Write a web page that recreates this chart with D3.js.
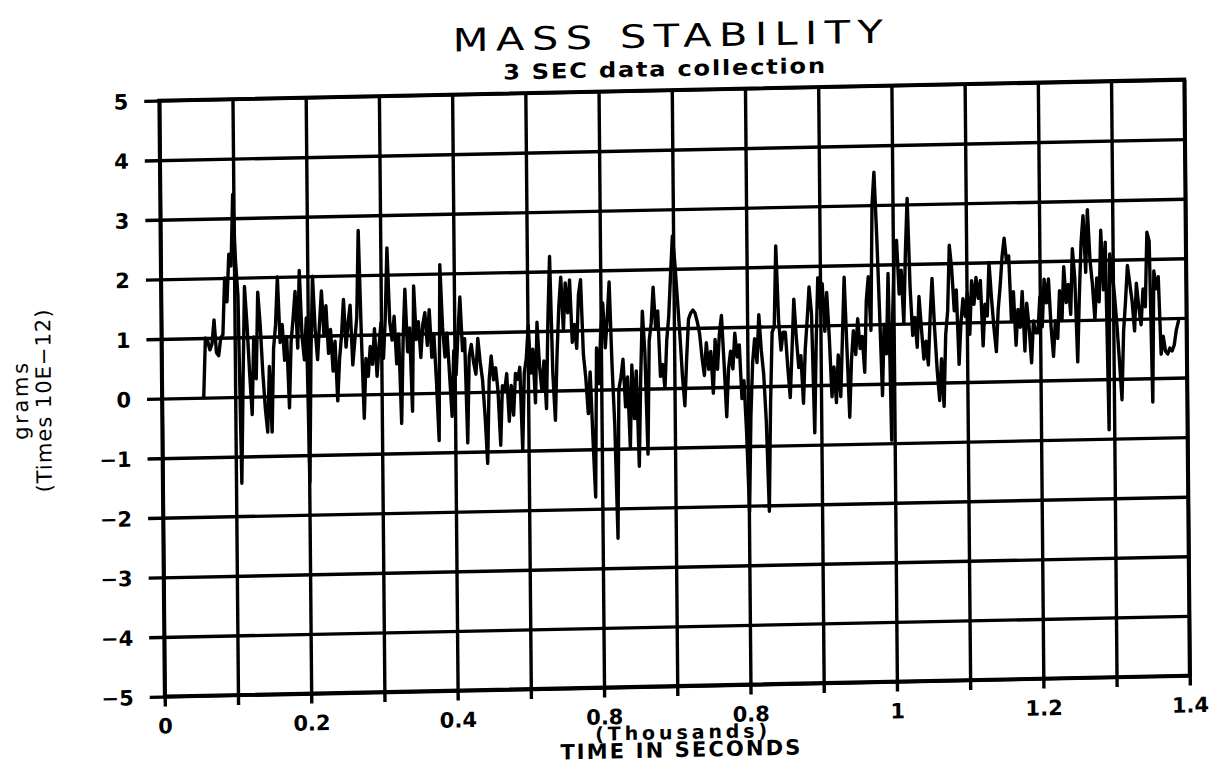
<!DOCTYPE html>
<html><head><meta charset="utf-8">
<script src="https://cdn.jsdelivr.net/npm/d3@7"></script>
<style>html,body{margin:0;padding:0;background:#fff;} svg{display:block;}</style>
</head><body>
<svg id="chart" width="1214" height="766"></svg>
<script>
// ---------- data ----------
const titleText = "MASS STABILITY";
const subtitleText = "3 SEC data collection";
const yTitleLines = ["grams", "(Times 10E\u221212)"];
const xTitleLines = ["(Thousands)", "TIME IN SECONDS"];
const xDomain = [0, 1.4];
const yDomain = [-5, 5];
const xGridValues = [0, 0.1, 0.2, 0.3, 0.4, 0.5, 0.6, 0.7, 0.8, 0.9, 1.0, 1.1, 1.2, 1.3, 1.4];
const xTickLabels = ["0", "0.2", "0.4", "0.8", "0.8", "1", "1.2", "1.4"];
const yTickValues = [-5, -4, -3, -2, -1, 0, 1, 2, 3, 4, 5];
const yTickLabels = ["\u22125", "\u22124", "\u22123", "\u22122", "\u22121", "0", "1", "2", "3", "4", "5"];
const sampleStart = 0.057;   // thousands of seconds
const sampleStep = 0.003;    // 3 sec data collection
const massValues = [
  0.0, 1.0, 0.95, 0.8, 0.9, 1.3, 0.75, 0.7, 1.0, 1.05,
  2.0, 1.6, 2.4, 2.2, 3.4, 2.3, 1.7, -1.45, 0.3, 1.85,
  1.2, 0.4, -0.3, 1.0, 0.3, 1.75, 1.2, 0.4, -0.2, -0.6,
  0.5, -0.6, 0.8, 1.2, 2.0, 0.9, 1.2, 0.6, 1.0, -0.2,
  0.9, 1.3, 1.75, 0.8, 2.1, 1.0, 0.6, 1.3, -1.45, 0.7,
  2.0, 1.1, 0.6, 1.2, 1.75, 1.0, 1.5, 0.7, 1.1, 0.4,
  0.9, -0.1, 0.6, 1.0, 1.6, 0.8, 1.2, 1.5, 0.5, 0.9,
  1.3, 2.75, 1.0, -0.4, 0.6, 0.3, 0.8, 0.5, 1.1, 0.3,
  0.8, 1.2, 0.6, 1.3, 2.45, 1.2, 0.9, 1.3, 0.5, 1.0,
  -0.5, 0.9, 1.75, 0.7, 1.1, -0.3, 1.8, 0.9, 1.2, 0.6,
  1.15, 1.35, 0.8, 1.4, 0.6, 1.0, 0.2, -0.8, 2.15, 1.1,
  0.6, 1.0, 0.3, -0.4, 0.7, 0.3, 1.0, 1.6, 0.7, 0.9,
  -0.85, 0.6, 0.8, 0.5, 0.3, 0.9, 0.5, 0.2, -0.4, -1.2,
  0.2, 0.6, 0.2, 0.4, 0.0, -0.9, 0.1, 0.0, 0.3, -0.5,
  0.1, -0.4, 0.3, 0.2, 0.4, -1.0, 0.3, 0.55, 1.1, 0.3,
  0.7, -0.2, 1.15, 0.4, 0.0, 0.5, -0.3, 1.2, 2.25, 0.3,
  -0.5, 0.6, 1.4, 1.9, 1.0, 1.8, 1.3, 1.85, 0.8, 1.1,
  0.7, 1.6, 1.85, 0.6, 0.2, -0.4, 0.3, -0.8, -1.8, 0.7,
  0.1, 1.0, 1.45, 0.7, 1.2, 1.8, 0.4, -0.6, -2.5, 0.0,
  0.2, 0.5, -0.3, 0.2, -1.0, 0.4, -0.5, 0.3, -1.3, 0.2,
  1.3, 0.6, -1.1, 0.8, 1.1, 1.7, 1.0, 1.3, 0.2, 0.4,
  0.0, 0.8, 1.2, 1.9, 2.55, 2.1, 1.5, 0.9, 0.2, -0.3,
  0.5, 1.15, 1.25, 1.3, 1.25, 1.1, 0.9, 0.5, 0.2, 0.75,
  0.3, 0.6, -0.1, 0.8, 0.3, 0.9, 1.2, 0.4, -0.5, 0.3,
  0.6, 0.3, 0.9, 0.5, 0.7, -0.2, 0.1, -0.8, -2.1, -0.5,
  0.4, 0.8, 0.4, 1.2, 0.6, 0.2, -0.6, -2.1, -0.3, 0.9,
  1.0, 2.35, 1.1, 0.6, 0.9, 0.9, 0.3, -0.2, 0.6, 1.45,
  0.8, 0.3, 0.5, -0.3, 0.6, 1.1, 1.65, 1.2, -0.8, 0.7,
  1.8, 1.3, 1.7, 0.9, 1.55, 0.8, -0.2, 0.3, -0.3, 0.5,
  -0.2, 0.8, 1.8, 0.6, -0.55, 0.4, 0.9, 0.5, 1.1, 0.6,
  0.8, 0.2, 1.4, 1.8, 0.9, 3.0, 3.55, 2.5, 1.2, -0.2,
  1.0, 0.5, 1.85, -0.95, 1.2, 2.3, 2.4, 1.5, 1.9, 1.0,
  2.2, 3.1, 1.6, 0.8, 1.1, 0.6, 1.45, 0.9, 0.4, 0.7,
  0.3, 1.1, 1.75, 0.9, 0.2, -0.3, 0.4, -0.4, 0.8, 1.2,
  2.3, 1.9, 1.2, 1.55, 0.3, 1.0, 1.4, 1.1, 1.5, 0.8,
  1.7, 1.3, 1.75, 1.4, 1.7, 0.6, 1.3, 1.1, 2.0, 1.4,
  0.9, 0.5, 1.2, 1.6, 2.1, 2.4, 2.0, 2.1, 1.0, 1.5,
  0.6, 1.2, 0.9, 1.5, 0.5, 1.3, 0.9, 0.3, 1.0, 0.8,
  0.8, 1.4, 0.9, 1.7, 1.3, 1.7, 0.9, 0.4, 1.0, 0.7,
  1.5, 1.0, 1.9, 1.3, 1.6, 1.1, 2.2, 1.7, 0.3, 1.4,
  2.3, 2.75, 1.8, 2.85, 2.0, 1.6, 1.0, 1.7, 1.3, 2.5,
  1.5, 2.3, -0.85, 2.1, 1.8, 1.4, 0.9, 0.3, -0.35, 0.8,
  1.3, 1.9, 1.6, 1.3, 0.8, 1.6, 1.2, 0.9, 1.5, 1.2,
  2.45, 2.3, -0.4, 1.8, 1.5, 1.7, 0.4, 0.7, 0.45, 0.4,
  0.5, 0.45, 0.55, 0.8, 0.95
];

// ---------- layout ----------
const L = 162, T = 90, W = 1025, H = 596;
const FONT = "'DejaVu Sans', 'Liberation Sans', sans-serif";

const svg = d3.select("#chart");
// the original is a slightly skewed scan: reproduce the tilt with one affine transform
const root = svg.append("g")
  .attr("transform", "matrix(1,-0.0205,0.0092,1,-3.57,13.84)");

const x = d3.scaleLinear().domain(xDomain).range([L, L + W]);
const y = d3.scaleLinear().domain(yDomain).range([T + H, T]);

// vertical grid + bottom ticks
const xAxis = d3.axisBottom(x)
  .tickValues(xGridValues)
  .tickSize(10)
  .tickFormat((d, i) => (i % 2 === 0 ? xTickLabels[i / 2] : ""));
const gx = root.append("g").attr("transform", `translate(0,${T + H})`).call(xAxis);
gx.select(".domain").remove();
gx.selectAll(".tick line")
  .attr("y1", -H).attr("y2", 10)
  .attr("stroke", "#000").attr("stroke-width", 3.4);
gx.selectAll(".tick text")
  .attr("y", 22).attr("dy", "0.71em")
  .attr("fill", "#000")
  .style("font-family", FONT).style("font-size", "21px").style("font-weight", "bold");

// horizontal grid + left ticks
const yAxis = d3.axisLeft(y)
  .tickValues(yTickValues)
  .tickSize(15)
  .tickFormat((d, i) => yTickLabels[i]);
const gy = root.append("g").attr("transform", `translate(${L},0)`).call(yAxis);
gy.select(".domain").remove();
gy.selectAll(".tick line")
  .attr("x1", -15).attr("x2", W)
  .attr("stroke", "#000").attr("stroke-width", 3.4);
gy.selectAll(".tick text")
  .attr("x", -31).attr("dy", "0.36em")
  .attr("fill", "#000")
  .style("font-family", FONT).style("font-size", "21px").style("font-weight", "bold");

// frame
root.append("rect")
  .attr("x", L).attr("y", T).attr("width", W).attr("height", H)
  .attr("fill", "none").attr("stroke", "#000").attr("stroke-width", 3.8);

// data line
const series = massValues.map((v, i) => ({ t: sampleStart + i * sampleStep, v }));
const line = d3.line().x(d => x(d.t)).y(d => y(d.v));
root.append("path")
  .datum(series)
  .attr("d", line)
  .attr("fill", "none")
  .attr("stroke", "#000")
  .attr("stroke-width", 3.4)
  .attr("stroke-linejoin", "round")
  .attr("stroke-linecap", "round");

// titles (wide plotter lettering: stretched horizontally)
root.append("g")
  .attr("transform", "translate(671,47) scale(1.3,1)")
  .append("text")
  .attr("x", 0).attr("y", 0)
  .attr("text-anchor", "middle")
  .attr("textLength", 430 / 1.3).attr("lengthAdjust", "spacing")
  .style("font-family", FONT).style("font-size", "32px")
  .attr("fill", "#000")
  .text(titleText);

root.append("g")
  .attr("transform", "translate(667,76) scale(1.15,1)")
  .append("text")
  .attr("x", 0).attr("y", 0)
  .attr("text-anchor", "middle")
  .attr("textLength", 322 / 1.15).attr("lengthAdjust", "spacing")
  .style("font-family", FONT).style("font-size", "21px").style("font-weight", "bold")
  .attr("fill", "#000")
  .text(subtitleText);

// x-axis title
root.append("text")
  .attr("x", 678).attr("y", 739)
  .attr("text-anchor", "middle")
  .attr("textLength", 172).attr("lengthAdjust", "spacing")
  .style("font-family", FONT).style("font-size", "19px").style("font-weight", "bold")
  .attr("fill", "#000")
  .text(xTitleLines[0]);
root.append("text")
  .attr("x", 677).attr("y", 757)
  .attr("text-anchor", "middle")
  .attr("textLength", 240).attr("lengthAdjust", "spacing")
  .style("font-family", FONT).style("font-size", "21px").style("font-weight", "bold")
  .attr("fill", "#000")
  .text(xTitleLines[1]);

// y-axis title
const yTitlePos = [{ x: 28, len: 77 }, { x: 51, len: 183 }];
yTitleLines.forEach((s, i) => {
  root.append("text")
    .attr("transform", `translate(${yTitlePos[i].x},388) rotate(-90)`)
    .attr("text-anchor", "middle")
    .attr("textLength", yTitlePos[i].len).attr("lengthAdjust", "spacing")
    .style("font-family", FONT).style("font-size", "21px")
    .attr("fill", "#000")
    .text(s);
});
</script>
</body></html>
